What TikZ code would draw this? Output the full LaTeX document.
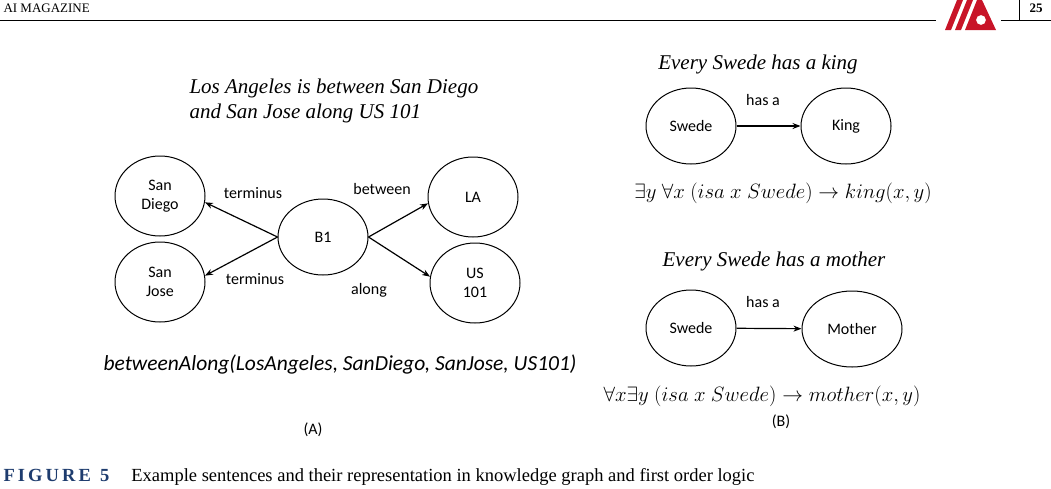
\documentclass[tikz,border=0pt]{standalone}
\usepackage{fontspec}
\setmainfont{Liberation Serif}
\setsansfont{Carlito}
\usetikzlibrary{arrows.meta,shapes.geometric}
\definecolor{logored}{RGB}{200,20,40}
\definecolor{capblue}{RGB}{30,60,110}
\begin{document}
\begin{tikzpicture}[x=1pt,y=-1pt,
  nd/.style={draw,line width=1pt,ellipse,minimum width=90pt,minimum height=80pt,inner sep=0pt,align=center,font=\sffamily\fontsize{16}{19}\selectfont},
  lb/.style={font=\sffamily\fontsize{16}{19}\selectfont},
  ar/.style={draw,line width=1.2pt,-{Stealth[length=8pt,width=6pt]}},
  ttl/.style={font=\itshape\fontsize{21}{25}\selectfont},
  fm/.style={font=\fontsize{21.5}{26}\selectfont}]
\useasboundingbox (0,0) rectangle (1051,488);
% header
\node[anchor=west,font=\fontsize{13}{15}\selectfont] (hdr) at (0,8) {AI MAGAZINE};
\node[anchor=center,font=\bfseries\fontsize{13}{15}\selectfont] (pg) at (1036,8) {25};
\draw[line width=0.6pt] (0,20) -- (936,20) (1001,20) -- (1051,20) (1019,0) -- (1019,20);
\fill[logored] (945,30) -- (957,0) -- (963,0) -- (951,30) -- cycle;
\fill[logored] (955,30) -- (967,0) -- (973,0) -- (961,30) -- cycle;
\fill[logored,even odd rule] (965,30) -- (977,0) -- (982,0) -- (996,30) -- cycle (981,20) circle (5);
% (A)
\node[ttl,align=left,anchor=west] (t1) at (186,101) {Los Angeles is between San Diego\\and San Jose along US 101};
\node[nd] (sd) at (160,196) {San\\Diego};
\node[nd] (sj) at (160,282) {San\\Jose};
\node[nd,minimum height=76pt] (b1) at (323,237) {B1};
\node[nd] (la) at (473,197) {LA};
\node[nd] (us) at (475,283) {US\\101};
\draw[ar] (b1.west) -- (sd.-8);
\draw[ar] (b1.west) -- (sj.8);
\draw[ar] (b1.east) -- (la.188);
\draw[ar] (b1.east) -- (us.172);
\node[lb] (l1) at (253,193) {terminus};
\node[lb] (l2) at (255,279) {terminus};
\node[lb] (l3) at (382,189) {between};
\node[lb] (l4) at (369,290) {along};
\node[font=\sffamily\itshape\fontsize{21.5}{25}\selectfont] (ba) at (340,364) {betweenAlong(LosAngeles, SanDiego, SanJose, US101)};
\node[font=\sffamily\fontsize{16}{19}\selectfont] (A) at (313,430) {(A)};
% (B)
\node[ttl] (t2) at (758,64) {Every Swede has a king};
\node[nd,minimum height=76pt] (sw1) at (691,126) {Swede};
\node[nd,minimum height=76pt] (k) at (846,126) {King};
\draw[ar] (sw1) -- (k);
\node[lb] (h1) at (763,100) {has a};
\node[fm] (f1) at (783,193) {$\exists y\ \forall x\ (isa\ x\ Swede)\rightarrow king(x,y)$};
\node[ttl] (t3) at (774,261) {Every Swede has a mother};
\node[nd,minimum height=76pt] (sw2) at (691,328) {Swede};
\node[nd,minimum width=100pt,minimum height=76pt] (m) at (852,329) {Mother};
\draw[ar] (sw2) -- (m);
\node[lb] (h2) at (763,302) {has a};
\node[fm] (f2) at (762,396) {$\forall x\exists y\ (isa\ x\ Swede)\rightarrow mother(x,y)$};
\node[font=\sffamily\fontsize{16}{19}\selectfont] (B) at (781,422) {(B)};
% caption
\node[anchor=west,font=\fontsize{18.5}{21}\selectfont] (cap) at (0,477) {\textcolor{capblue}{\bfseries F\,I\,G\,U\,R\,E\ \ 5}\hspace{22pt}Example sentences and their representation in knowledge graph and first order logic};
\end{tikzpicture}
\end{document}
